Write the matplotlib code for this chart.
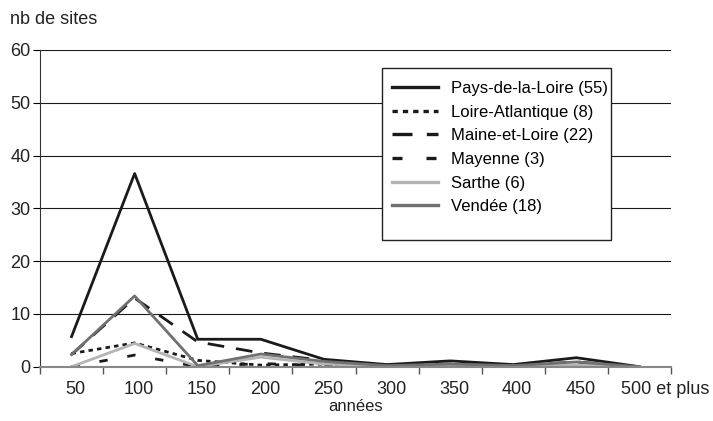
import numpy as np
import matplotlib
matplotlib.use('Agg')
import matplotlib.pyplot as plt
import matplotlib.transforms as mtransforms
from matplotlib.patches import Rectangle

plt.rcParams['font.family'] = ['Liberation Sans', 'DejaVu Sans']

# Données
categories = ['50', '100', '150', '200', '250', '300', '350', '400', '450', '500 et plus']
pays_de_la_loire = [5.7, 36.6, 5.2, 5.2, 1.4, 0.4, 1.1, 0.4, 1.7, 0.0]
loire_atlantique = [2.5, 4.5, 1.2, 0.3, 0.5, 0.1, 0.2, 0.1, 0.2, 0.0]
maine_et_loire = [2.3, 13.0, 4.7, 2.6, 1.2, 0.3, 0.5, 0.2, 0.9, 0.0]
mayenne = [0.0, 2.2, 0.0, 0.6, 0.2, 0.0, 0.1, 0.0, 0.1, 0.0]
sarthe = [0.0, 4.4, 0.0, 1.8, 0.5, 0.1, 0.3, 0.1, 0.3, 0.0]
vendee = [2.3, 13.4, 0.2, 2.4, 1.0, 0.2, 0.5, 0.2, 0.9, 0.0]

x = np.arange(len(categories))

W, H = 713, 421
fig = plt.figure(figsize=(W / 100, H / 100), dpi=100)
ax = fig.add_axes([40 / W, (H - 366.7) / H, 631 / W, 316.7 / H])

# grille
for yv in range(10, 61, 10):
    ax.axhline(yv, color='#1a1a1a', lw=0.8, zorder=0)

ax.plot(x, pays_de_la_loire, color='#1a1a1a', lw=2.0, label='Pays-de-la-Loire (55)')
ax.plot(x, loire_atlantique, color='#1a1a1a', lw=2.0, ls=(0, (1.6, 1.5)), label='Loire-Atlantique (8)')
ax.plot(x, maine_et_loire, color='#1a1a1a', lw=2.0, ls=(0, (6, 4.3)), label='Maine-et-Loire (22)')
ax.plot(x, mayenne, color='#1a1a1a', lw=2.0, ls=(0, (3, 7.2)), label='Mayenne (3)')
ax.plot(x, sarthe, color='#b4b4b4', lw=2.0, label='Sarthe (6)')
ax.plot(x, vendee, color='#707070', lw=2.0, label='Vendée (18)')

ax.set_xlim(-0.5, 9.5)
ax.set_ylim(0, 60)
ax.set_yticks(range(0, 61, 10))
ax.set_xticks(x)
ax.set_xticklabels(categories)
ax.set_xticks(np.arange(-0.5, 10, 1), minor=True)
ax.tick_params(axis='x', which='major', length=0, pad=10, labelsize=13, colors='#222222')
ax.tick_params(axis='x', which='minor', length=5, width=1, color='#555555', direction='out')
ax.tick_params(axis='y', length=5, width=0.8, pad=2, labelsize=13, labelcolor='#222222')

# décalage des étiquettes comme dans Excel
shift = mtransforms.ScaledTranslation(4 / 100, 0, fig.dpi_scale_trans)
labels = ax.get_xticklabels()
for lab in labels:
    lab.set_transform(lab.get_transform() + shift)
last_shift = mtransforms.ScaledTranslation(-22 / 100, 0, fig.dpi_scale_trans)
labels[-1].set_horizontalalignment('left')
labels[-1].set_transform(labels[-1].get_transform() + last_shift)

for s in ['top', 'right']:
    ax.spines[s].set_visible(False)
ax.spines['left'].set_color('#333333')
ax.spines['bottom'].set_color('#888888')
ax.spines['bottom'].set_linewidth(1.5)

ax.set_xlabel('années', fontsize=12, color='#222222', labelpad=1)
fig.text(10 / W, 1 - 19 / H, 'nb de sites', fontsize=13, color='#222222', va='center')

# légende (cadre dessiné à part pour garder l'espace en bas)
ax.add_patch(Rectangle((381.7 / W, 1 - 240 / H), (611 - 381.7) / W, (240 - 68) / H,
                       transform=fig.transFigure, facecolor='white',
                       edgecolor='#222222', lw=1.0, zorder=5, clip_on=False))
leg = ax.legend(loc='upper left', bbox_to_anchor=(391.7 / W, 1 - 81 / H),
                bbox_transform=fig.transFigure, fontsize=12, frameon=False,
                handlelength=2.75, handletextpad=0.8, labelspacing=0.52,
                borderpad=0, borderaxespad=0)
leg.set_zorder(6)
for line in leg.get_lines():
    line.set_linewidth(2.4)

fig.savefig('out.png', dpi=100)
